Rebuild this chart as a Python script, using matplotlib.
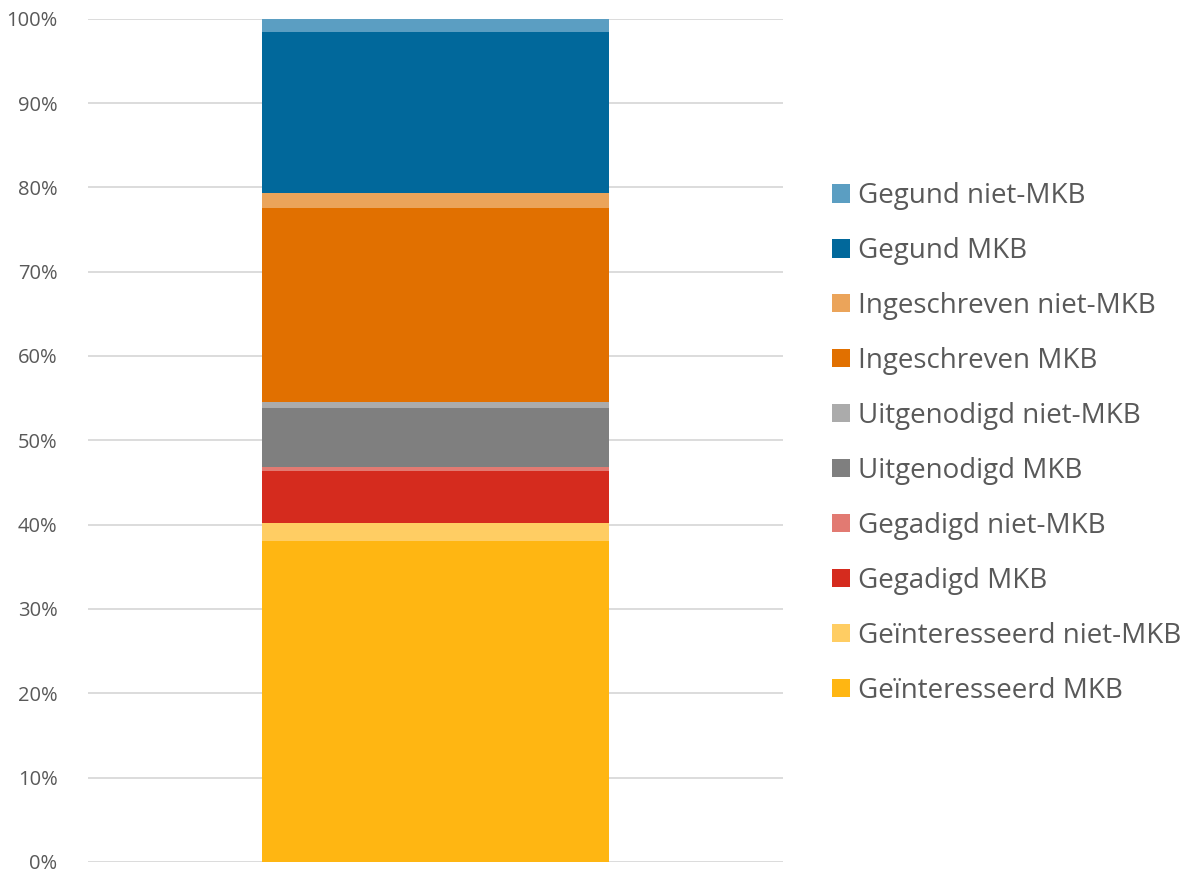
import matplotlib.pyplot as plt
from matplotlib.ticker import PercentFormatter

categories = ["Geïnteresseerd MKB", "Geïnteresseerd niet-MKB",
              "Gegadigd MKB", "Gegadigd niet-MKB",
              "Uitgenodigd MKB", "Uitgenodigd niet-MKB",
              "Ingeschreven MKB", "Ingeschreven niet-MKB",
              "Gegund MKB", "Gegund niet-MKB"]
values = [38.1, 2.1, 6.2, 0.4, 7.0, 0.7, 23.1, 1.7, 19.1, 1.6]
colors = ["#FFB612", "#FFCD63", "#D52B1E", "#E27A72",
          "#7F7F7F", "#ABABAB", "#E17000", "#EBA45A",
          "#01689B", "#5B9EC2"]

plt.rcParams['font.family'] = ['Open Sans', 'DejaVu Sans']

fig = plt.figure(figsize=(11.83, 8.71), dpi=100)
ax = fig.add_axes([0.0744, 0.0105, 0.5876, 0.968])

bottom = 0
handles = []
for cat, val, col in zip(categories, values, colors):
    b = ax.bar(0, val, width=0.5, bottom=bottom, color=col, label=cat, zorder=3)
    handles.append(b)
    bottom += val

ax.set_xlim(-0.5, 0.5)
ax.set_ylim(0, 100)
ax.set_yticks(range(0, 101, 10))
ax.yaxis.set_major_formatter(PercentFormatter(decimals=0))
ax.set_xticks([])
ax.grid(axis='y', color='#D9D9D9', linewidth=1.3, zorder=0)
for s in ax.spines.values():
    s.set_visible(False)
ax.tick_params(axis='y', length=0, pad=22, labelsize=14.5, labelcolor='#595959')
for lbl in ax.get_yticklabels():
    lbl.set_verticalalignment('center_baseline')

fig.legend(handles[::-1], categories[::-1], loc='center left',
           bbox_to_anchor=(0.682, 0.491), frameon=False,
           fontsize=20, labelcolor='#595959', handlelength=0.65,
           handleheight=0.65, handletextpad=0.3, labelspacing=0.97)

fig.savefig("out.png", dpi=100)
